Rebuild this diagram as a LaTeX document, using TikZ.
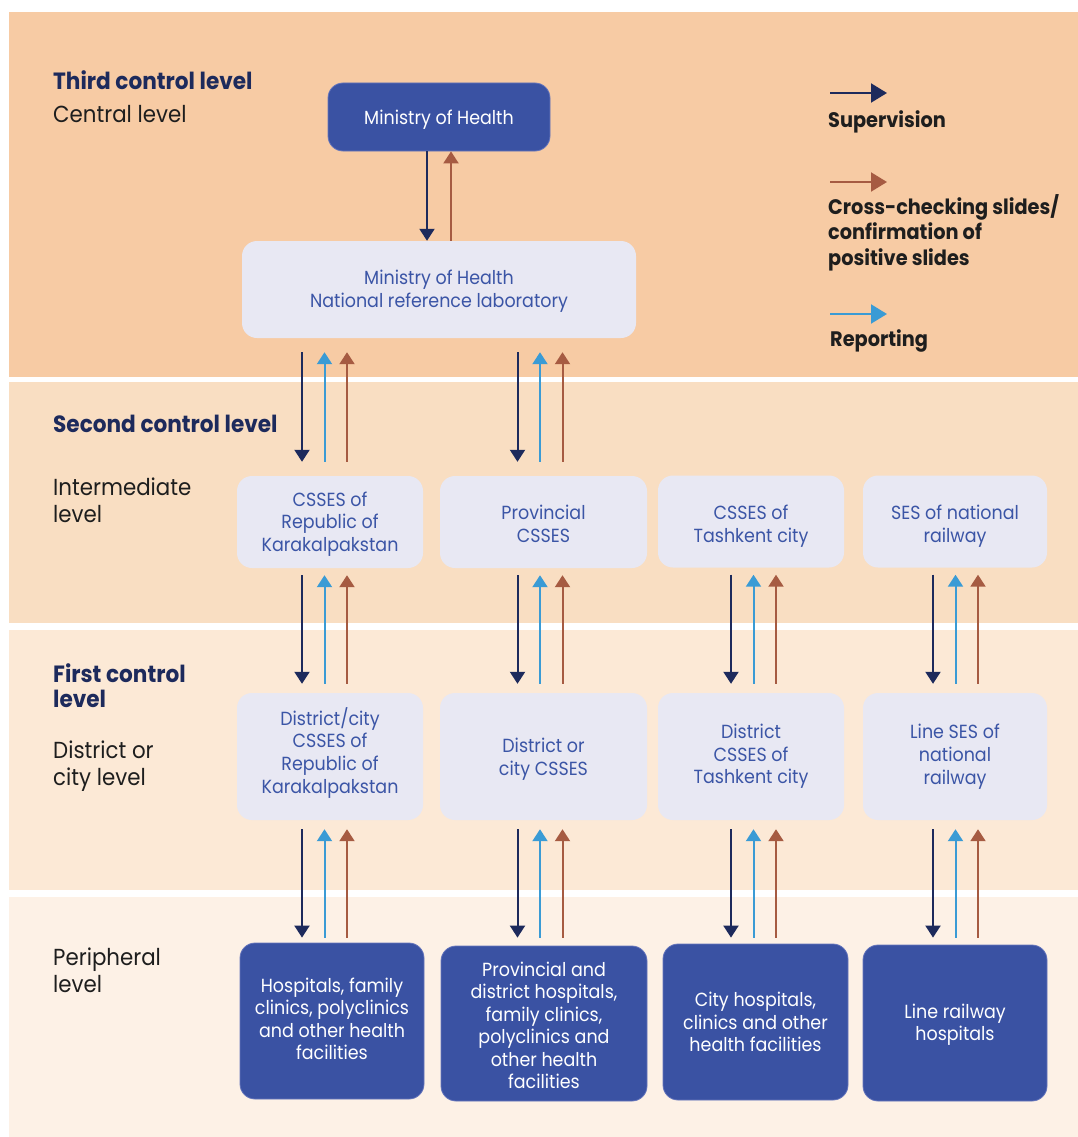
\documentclass[tikz,border=0pt]{standalone}
\usepackage{fontspec}
\setmainfont{Poppins}[FakeStretch=0.92]
\usetikzlibrary{arrows.meta,calc}
\definecolor{bandA}{HTML}{F7CBA4}
\definecolor{bandB}{HTML}{F9DEC2}
\definecolor{bandC}{HTML}{FCE9D6}
\definecolor{bandD}{HTML}{FDF1E6}
\definecolor{darkbox}{HTML}{3A52A3}
\definecolor{darkedge}{HTML}{6676BC}
\definecolor{lightbox}{HTML}{E8E8F3}
\definecolor{boxtext}{HTML}{3B55A6}
\definecolor{navy}{HTML}{1D2A5C}
\definecolor{repblue}{HTML}{3A9BD5}
\definecolor{brown}{HTML}{A65B42}
\definecolor{ink}{HTML}{1E1E1E}
\newcommand\tri[5]{%
  \draw[sup] ($(#1.south -| #3)+(-22.5,#4)$) -- ($(#2.north -| #3)+(-22.5,-#5)$);
  \draw[rep] ($(#2.north -| #3)+(0,-#5)$) -- ($(#1.south -| #3)+(0,#4)$);
  \draw[chk] ($(#2.north -| #3)+(22.5,-#5)$) -- ($(#1.south -| #3)+(22.5,#4)$);
}
\newcommand\dn[1]{\rule{0pt}{#1pt}}
\newcommand\up[1]{\rule[-#1pt]{0pt}{0pt}}
\begin{document}
\begin{tikzpicture}[x=1pt,y=-1pt,
  lbox/.style={fill=lightbox, rounded corners=15pt, text=boxtext, align=center,
    font=\fontsize{19}{22.7}\selectfont, inner sep=0pt},
  dbox/.style={fill=darkbox, draw=darkedge, line width=0.8pt, rounded corners=15pt,
    text=white, align=center, font=\fontsize{19}{22.5}\selectfont, inner sep=0pt},
  title/.style={anchor=base west, inner sep=0pt, text=navy,
    font=\fontsize{23.5}{27}\selectfont\bfseries},
  sub/.style={anchor=base west, inner sep=0pt, text=ink,
    font=\fontsize{23.2}{27}\selectfont},
  leg/.style={anchor=base west, inner sep=0pt, text=ink,
    font=\fontsize{21}{25.5}\selectfont\bfseries},
  sup/.style={draw=navy, line width=2pt, -{Triangle[width=15pt,length=12pt]}},
  rep/.style={draw=repblue, line width=2pt, -{Triangle[width=15pt,length=12pt]}},
  chk/.style={draw=brown, line width=2pt, -{Triangle[width=15pt,length=12pt]}},
  legsup/.style={sup, -{Triangle[width=19pt,length=16pt]}},
  legrep/.style={rep, -{Triangle[width=19pt,length=16pt]}},
  legchk/.style={chk, -{Triangle[width=19pt,length=16pt]}},
]
\useasboundingbox (0,0) rectangle (1078,1137);
\fill[white] (0,0) rectangle (1078,1137);
% bands
\fill[bandA] (9,12) rectangle (1078,377);
\fill[bandB] (9,382) rectangle (1078,623);
\fill[bandC] (9,630) rectangle (1078,890);
\fill[bandD] (9,897) rectangle (1078,1137);

% left labels
\node[title] (t3) at (53,90) {Third control level};
\node[sub] (s3) at (53,122.7) {Central level};
\node[title] (t2) at (53,432) {Second control level};
\node[sub] (s2a) at (53,495) {Intermediate};
\node[sub] (s2b) at (53,522) {level};
\node[title] (t1a) at (53,682) {First control};
\node[title] (t1b) at (53,707) {level};
\node[sub] (s1a) at (53,758) {District or};
\node[sub] (s1b) at (53,785) {city level};
\node[sub] (s0a) at (53,965) {Peripheral};
\node[sub] (s0b) at (53,992) {level};

% legend
\coordinate (la1) at (830,93);  \coordinate (lb1) at (887,93);
\coordinate (la2) at (830,182); \coordinate (lb2) at (887,182);
\coordinate (la3) at (830,314); \coordinate (lb3) at (887,314);
\draw[legsup] (la1) -- (lb1);
\draw[legchk] (la2) -- (lb2);
\draw[legrep] (la3) -- (lb3);
\node[leg] (lg1) at (828,128) {Supervision};
\node[leg] (lg2a) at (828,214) {Cross-checking slides/};
\node[leg] (lg2b) at (828,239.5) {confirmation of};
\node[leg] (lg2c) at (828,265) {positive slides};
\node[leg] (lg3) at (830,346) {Reporting};

% central boxes
\node[dbox, minimum width=222pt, minimum height=68pt] (mh) at (439,117) {\dn{20}Ministry of Health};
\node[lbox, minimum width=394pt, minimum height=97pt] (lab) at (439,289.5)
  {\dn{18.5}Ministry of Health\\National reference laboratory};

% intermediate
\node[lbox, minimum width=186pt, minimum height=92pt] (k2) at (330,522)
  {\dn{18.5}CSSES of\\Republic of\\Karakalpakstan};
\node[lbox, minimum width=207pt, minimum height=92pt] (p2) at (543.5,522)
  {\dn{18.5}Provincial\\CSSES};
\node[lbox, minimum width=186pt, minimum height=92pt] (t2b) at (751,521.5)
  {\dn{24.5}CSSES of\\Tashkent city};
\node[lbox, minimum width=184pt, minimum height=92pt] (r2) at (955,521.5)
  {\dn{24.5}SES of national\\railway};

% district
\node[lbox, minimum width=186pt, minimum height=127pt] (k3) at (330,756.5)
  {District/city\\CSSES of\\Republic of\\Karakalpakstan\up{12.5}};
\node[lbox, minimum width=207pt, minimum height=127pt] (p3) at (543.5,756.5)
  {\dn{20.5}District or\\city CSSES};
\node[lbox, minimum width=186pt, minimum height=127pt] (t3b) at (751,756.5)
  {District\\CSSES of\\Tashkent city};
\node[lbox, minimum width=184pt, minimum height=127pt] (r3) at (955,756.5)
  {Line SES of\\national\\railway};

% peripheral
\node[dbox, minimum width=184pt, minimum height=156pt] (k4) at (332,1021)
  {Hospitals, family\\clinics, polyclinics\\and other health\\facilities\up{5}};
\node[dbox, minimum width=206pt, minimum height=155pt] (p4) at (544,1023.5)
  {\dn{18.5}Provincial and\\district hospitals,\\family clinics,\\polyclinics and\\other health\\facilities};
\node[dbox, minimum width=185pt, minimum height=156pt] (t4) at (755.5,1022)
  {City hospitals,\\clinics and other\\health facilities};
\node[dbox, minimum width=184pt, minimum height=156pt] (r4) at (955,1023)
  {\dn{17.5}Line railway\\hospitals};

% column coordinates
\coordinate (c1) at (324.5,0);
\coordinate (c2) at (540,0);
\coordinate (c3) at (753.5,0);
\coordinate (c4) at (955.5,0);

% top pair
\draw[sup] ($(mh.south)+(-12,0)$) -- ($(lab.north)+(-12,0)$);
\draw[chk] ($(lab.north)+(12,0)$) -- ($(mh.south)+(12,0)$);

% lab to intermediate
\tri{lab}{k2}{c1}{14}{14}
\tri{lab}{p2}{c2}{14}{14}
% intermediate to district
\tri{k2}{k3}{c1}{7}{9}
\tri{p2}{p3}{c2}{7}{9}
\tri{t2b}{t3b}{c3}{7}{9}
\tri{r2}{r3}{c4}{7}{9}
% district to peripheral
\tri{k3}{k4}{c1}{9}{5}
\tri{p3}{p4}{c2}{9}{8}
\tri{t3b}{t4}{c3}{9}{6}
\tri{r3}{r4}{c4}{9}{7}
\end{tikzpicture}
\end{document}
